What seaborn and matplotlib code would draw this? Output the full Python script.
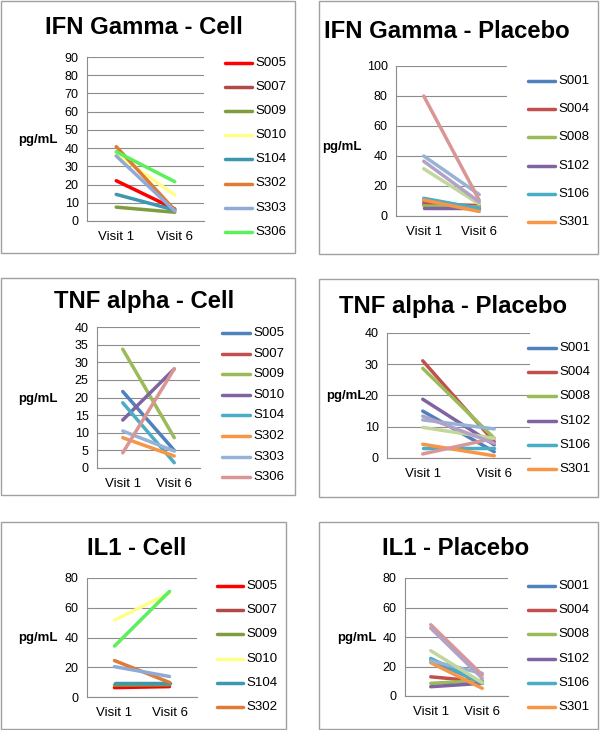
import matplotlib
matplotlib.use('Agg')
import matplotlib.pyplot as plt
from matplotlib.lines import Line2D
from matplotlib.patches import Rectangle
from matplotlib.ticker import FixedLocator
import numpy as np
import pandas as pd
import seaborn as sns

sns.set_style("white")
plt.rcParams['font.family'] = ['Liberation Sans', 'DejaVu Sans']
plt.rcParams['text.color'] = 'black'
plt.rcParams['xtick.labelcolor'] = 'black'
plt.rcParams['ytick.labelcolor'] = 'black'

nan = np.nan
visits = ["Visit 1", "Visit 6"]

cell_subjects = ["S005", "S007", "S009", "S010", "S104", "S302", "S303", "S306"]
# last four placebo series have no visible legend entry in the original
placebo_subjects = ["S001", "S004", "S008", "S102", "S106", "S301",
                    "Series 7", "Series 8", "Series 9", "Series 10"]

# custom colours used in the IFN / IL1 cell charts
cell_colors = ["#ff0000", "#b04a48", "#7f9c3e", "#ffff88", "#3d97b0",
               "#de7b36", "#8faad6", "#5cf05c"]
# Excel default palette
excel_colors = ["#4f81bd", "#c0504d", "#9bbb59", "#8064a2", "#4bacc6",
                "#f79646", "#95b3d7", "#d99694", "#c3d69b", "#b3a2c7"]

ifn_cell_v1 = [22.1, nan, 7.6, 36.8, 14.6, 40.8, 35.7, 38.0]
ifn_cell_v6 = [6.6, nan, 4.8, 14.3, 6.0, 6.0, 5.5, 21.6]

ifn_placebo_v1 = [9.6, 8.0, 6.7, 5.5, 11.8, 10.7, 40.0, 80.0, 31.5, 36.5]
ifn_placebo_v6 = [4.4, 7.0, 6.0, 5.5, 5.0, 3.0, 14.3, 10.5, 8.0, 9.4]

tnf_cell_v1 = [21.7, nan, 33.7, 13.6, 18.5, 8.6, 10.5, 4.3]
tnf_cell_v6 = [5.0, nan, 8.6, 28.1, 1.5, 3.4, 4.8, 28.1]

tnf_placebo_v1 = [15.0, 31.1, 28.7, 18.8, 3.3, 4.4, 12.2, 1.3, 9.8, 13.4]
tnf_placebo_v6 = [2.0, 5.2, 6.3, 4.2, 3.3, 0.7, 9.3, 6.3, 6.3, 4.7]

il1_cell_v1 = [6.3, nan, 8.0, 51.7, 9.3, 24.5, 20.4, 34.2]
il1_cell_v6 = [7.0, nan, 8.2, 69.8, 9.3, 9.8, 13.8, 71.0]

il1_placebo_v1 = [24.5, 13.0, 8.6, 6.3, 25.5, 22.6, 23.9, 48.3, 30.7, 46.0]
il1_placebo_v6 = [8.6, 9.8, 10.4, 8.6, 8.6, 5.2, 15.3, 14.3, 9.0, 12.0]

W, H = 600, 730
GRID = '#8c8c8c'


def fx(px):
    return px / W


def fy(py):
    return 1 - py / H


def draw_panel(fig, box, axbox, title, title_pos, ylab_pos, subjects, colors,
               v1, v6, ymax, ystep, leg, n_leg):
    # panel frame
    x0, y0, x1, y1 = box
    fig.add_artist(Rectangle((fx(x0), fy(y1)), (x1 - x0) / W, (y1 - y0) / H,
                             transform=fig.transFigure, fill=False,
                             ec='#a0a0a0', lw=1.0))
    fig.text(fx(title_pos[0]), fy(title_pos[1]), title, ha='center',
             va='baseline', fontsize=17.2, fontweight='bold')
    fig.text(fx(ylab_pos[0]), fy(ylab_pos[1]), 'pg/mL', ha='left',
             va='center', fontsize=9.5, fontweight='bold')

    ax0, ay0, ax1, ay1 = axbox
    ax = fig.add_axes([fx(ax0), fy(ay1), (ax1 - ax0) / W, (ay1 - ay0) / H])

    df = pd.DataFrame({
        'subject': subjects * 2,
        'visit': [visits[0]] * len(subjects) + [visits[1]] * len(subjects),
        'pg': list(v1) + list(v6),
    }).dropna()
    pal = dict(zip(subjects, colors))
    sns.lineplot(data=df, x='visit', y='pg', hue='subject',
                 hue_order=subjects, palette=pal, linewidth=2.5,
                 legend=False, errorbar=None, sort=False, ax=ax)

    ax.set_xlim(-0.5, 1.5)
    ax.set_ylim(0, ymax)
    ax.set_yticks(np.arange(0, ymax + 0.1, ystep))
    ax.set_yticklabels([f'{int(v)}' for v in np.arange(0, ymax + 0.1, ystep)])
    ax.set_xticks([0, 1])
    ax.set_xticklabels(visits)
    ax.xaxis.set_minor_locator(FixedLocator([-0.5, 0.5, 1.5]))
    ax.set_xlabel('')
    ax.set_ylabel('')
    ax.yaxis.grid(True, color=GRID, lw=0.8)
    ax.xaxis.grid(False)
    ax.set_axisbelow(True)
    for s in ['top', 'right']:
        ax.spines[s].set_visible(False)
    for s in ['left', 'bottom']:
        ax.spines[s].set_color(GRID)
        ax.spines[s].set_linewidth(0.8)
    ax.tick_params(axis='y', which='major', length=4, width=0.8,
                   color=GRID, direction='out', labelsize=9, pad=2)
    ax.tick_params(axis='x', which='major', length=0, labelsize=9.5, pad=7)
    ax.tick_params(axis='x', which='minor', length=4, width=0.8,
                   color=GRID, direction='out')

    # legend (only the entries that fit in the original box)
    la, lb, lt, ly0, dy = leg
    for i in range(n_leg):
        y = ly0 + i * dy
        fig.add_artist(Line2D([fx(la), fx(lb)], [fy(y), fy(y)],
                              transform=fig.transFigure,
                              color=colors[i], lw=2.5))
        fig.text(fx(lt), fy(y), subjects[i], ha='left', va='center',
                 fontsize=9.5)
    return ax


fig = plt.figure(figsize=(6, 7.3), dpi=100)

draw_panel(fig, (1, 1, 295, 253), (87, 57, 204, 221), 'IFN Gamma - Cell',
           (144, 34), (18, 140), cell_subjects, cell_colors,
           ifn_cell_v1, ifn_cell_v6, 90, 10, (225, 252, 255, 63, 24.1), 8)

draw_panel(fig, (319, 1, 598, 254), (396, 66, 507, 216), 'IFN Gamma - Placebo',
           (447, 38), (322, 147), placebo_subjects, excel_colors,
           ifn_placebo_v1, ifn_placebo_v6, 100, 20, (528, 555, 558, 81, 28.2), 6)

draw_panel(fig, (1, 278, 295, 495), (97, 327, 200, 468), 'TNF alpha - Cell',
           (144, 308), (18, 399), cell_subjects, excel_colors,
           tnf_cell_v1, tnf_cell_v6, 40, 5, (222, 250, 253, 333, 20.6), 8)

draw_panel(fig, (319, 279, 598, 497), (387, 333, 530, 458), 'TNF alpha - Placebo',
           (453, 313), (326, 396), placebo_subjects, excel_colors,
           tnf_placebo_v1, tnf_placebo_v6, 40, 10, (528, 556, 559, 348, 24.2), 6)

draw_panel(fig, (1, 522, 286, 729), (87, 578, 197, 697), 'IL1 - Cell',
           (137, 555), (18, 638), cell_subjects, cell_colors,
           il1_cell_v1, il1_cell_v6, 80, 20, (217, 243, 246, 586, 24.2), 6)

draw_panel(fig, (319, 522, 598, 729), (405, 578, 508, 696), 'IL1 - Placebo',
           (456, 555), (337, 638), placebo_subjects, excel_colors,
           il1_placebo_v1, il1_placebo_v6, 80, 20, (528, 555, 558, 586, 24.2), 6)

fig.savefig('out.png', dpi=100, facecolor='white')
plt.close(fig)
